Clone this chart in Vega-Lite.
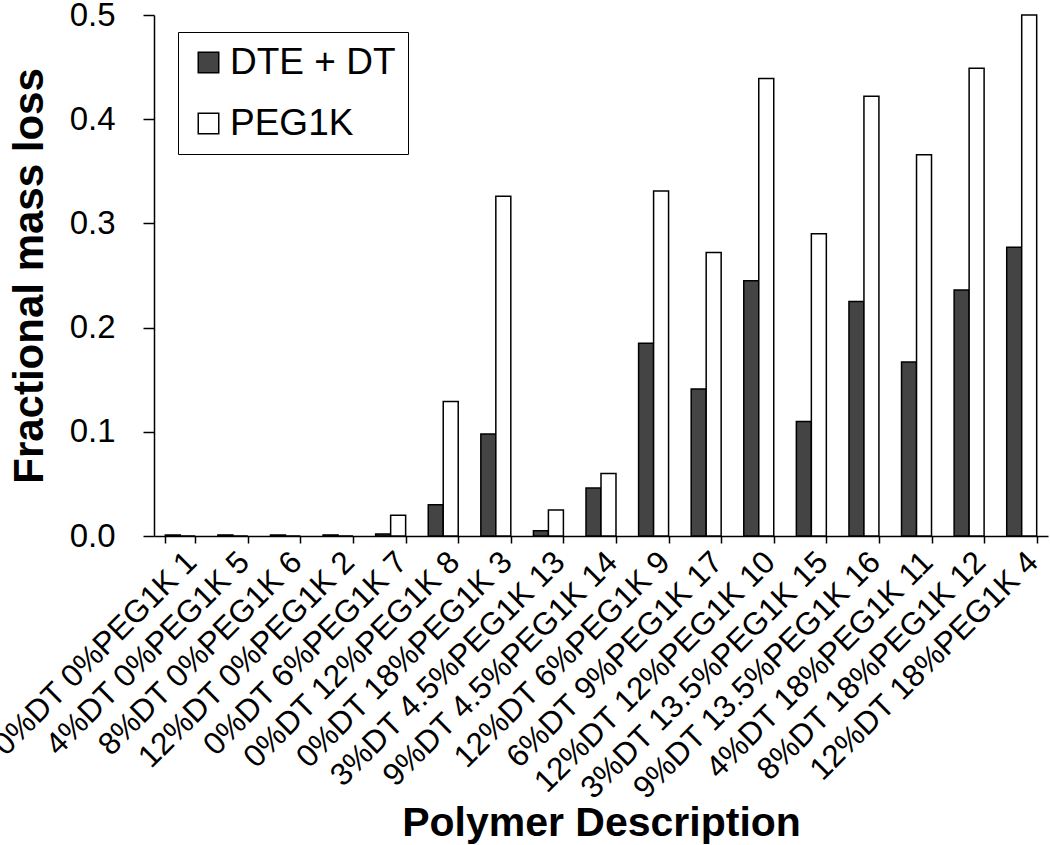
{
  "$schema": "https://vega.github.io/schema/vega-lite/v6.json",
  "width": 894,
  "height": 521,
  "autosize": "none",
  "padding": {"left": 154, "top": 15, "right": 2, "bottom": 309},
  "background": "white",
  "config": {
    "view": {"stroke": null},
    "font": "Liberation Sans",
    "axis": {"domainColor": "black", "tickColor": "black", "labelColor": "black", "titleColor": "black", "grid": false, "labelFont": "Liberation Sans", "titleFont": "Liberation Sans"}
  },
  "data": {
    "values": [
      {"polymer": "0%DT 0%PEG1K 1", "series": "DTE + DT", "value": 0.001},
      {"polymer": "0%DT 0%PEG1K 1", "series": "PEG1K", "value": 0},
      {"polymer": "4%DT 0%PEG1K 5", "series": "DTE + DT", "value": 0.001},
      {"polymer": "4%DT 0%PEG1K 5", "series": "PEG1K", "value": 0},
      {"polymer": "8%DT 0%PEG1K 6", "series": "DTE + DT", "value": 0.001},
      {"polymer": "8%DT 0%PEG1K 6", "series": "PEG1K", "value": 0},
      {"polymer": "12%DT 0%PEG1K 2", "series": "DTE + DT", "value": 0.001},
      {"polymer": "12%DT 0%PEG1K 2", "series": "PEG1K", "value": 0},
      {"polymer": "0%DT 6%PEG1K 7", "series": "DTE + DT", "value": 0.002},
      {"polymer": "0%DT 6%PEG1K 7", "series": "PEG1K", "value": 0.020},
      {"polymer": "0%DT 12%PEG1K 8", "series": "DTE + DT", "value": 0.030},
      {"polymer": "0%DT 12%PEG1K 8", "series": "PEG1K", "value": 0.129},
      {"polymer": "0%DT 18%PEG1K 3", "series": "DTE + DT", "value": 0.098},
      {"polymer": "0%DT 18%PEG1K 3", "series": "PEG1K", "value": 0.326},
      {"polymer": "3%DT 4.5%PEG1K 13", "series": "DTE + DT", "value": 0.005},
      {"polymer": "3%DT 4.5%PEG1K 13", "series": "PEG1K", "value": 0.025},
      {"polymer": "9%DT 4.5%PEG1K 14", "series": "DTE + DT", "value": 0.046},
      {"polymer": "9%DT 4.5%PEG1K 14", "series": "PEG1K", "value": 0.060},
      {"polymer": "12%DT 6%PEG1K 9", "series": "DTE + DT", "value": 0.185},
      {"polymer": "12%DT 6%PEG1K 9", "series": "PEG1K", "value": 0.331},
      {"polymer": "6%DT 9%PEG1K 17", "series": "DTE + DT", "value": 0.141},
      {"polymer": "6%DT 9%PEG1K 17", "series": "PEG1K", "value": 0.272},
      {"polymer": "12%DT 12%PEG1K 10", "series": "DTE + DT", "value": 0.245},
      {"polymer": "12%DT 12%PEG1K 10", "series": "PEG1K", "value": 0.439},
      {"polymer": "3%DT 13.5%PEG1K 15", "series": "DTE + DT", "value": 0.110},
      {"polymer": "3%DT 13.5%PEG1K 15", "series": "PEG1K", "value": 0.290},
      {"polymer": "9%DT 13.5%PEG1K 16", "series": "DTE + DT", "value": 0.225},
      {"polymer": "9%DT 13.5%PEG1K 16", "series": "PEG1K", "value": 0.422},
      {"polymer": "4%DT 18%PEG1K 11", "series": "DTE + DT", "value": 0.167},
      {"polymer": "4%DT 18%PEG1K 11", "series": "PEG1K", "value": 0.366},
      {"polymer": "8%DT 18%PEG1K 12", "series": "DTE + DT", "value": 0.236},
      {"polymer": "8%DT 18%PEG1K 12", "series": "PEG1K", "value": 0.449},
      {"polymer": "12%DT 18%PEG1K 4", "series": "DTE + DT", "value": 0.277},
      {"polymer": "12%DT 18%PEG1K 4", "series": "PEG1K", "value": 0.500}
    ]
  },
  "mark": {"type": "bar", "stroke": "black", "strokeWidth": 1.5},
  "encoding": {
    "x": {
      "field": "polymer",
      "type": "nominal",
      "sort": null,
      "scale": {"paddingInner": 0.43, "paddingOuter": 0.215},
      "axis": {
        "title": "Polymer Description",
        "titleFontSize": 41,
        "titleFontWeight": "bold",
        "titleBaseline": "alphabetic",
        "titleY": 299,
        "labelFontSize": 31.5,
        "labelAngle": -45,
        "labelAlign": "right",
        "labelBaseline": "top",
        "labelPadding": 3,
        "tickBand": "extent",
        "tickSize": 7,
        "tickWidth": 1.5,
        "domainWidth": 1.5,
        "labelOverlap": false,
        "labelLimit": 0
      }
    },
    "xOffset": {"field": "series", "type": "nominal", "scale": {"paddingInner": 0, "paddingOuter": 0}},
    "y": {
      "field": "value",
      "type": "quantitative",
      "scale": {"domain": [0, 0.5], "nice": false},
      "axis": {
        "title": "Fractional mass loss",
        "titleFontSize": 42,
        "titleFontWeight": "bold",
        "titlePadding": 18,
        "labelFontSize": 33,
        "labelPadding": 28,
        "values": [0, 0.1, 0.2, 0.3, 0.4, 0.5],
        "format": ".1f",
        "tickSize": 11,
        "tickWidth": 1.5,
        "domainWidth": 1.5
      }
    },
    "fill": {
      "field": "series",
      "type": "nominal",
      "scale": {"domain": ["DTE + DT", "PEG1K"], "range": ["#444444", "#ffffff"]},
      "legend": {
        "title": null,
        "orient": "none",
        "legendX": 24,
        "legendY": 17,
        "strokeColor": "black",
        "padding": 12,
        "symbolType": "square",
        "symbolSize": 420,
        "symbolStrokeColor": "black",
        "symbolStrokeWidth": 1.5,
        "labelFontSize": 37,
        "labelColor": "black",
        "labelOffset": 3,
        "labelLimit": 0,
        "rowPadding": 23,
        "labelFont": "Liberation Sans"
      }
    }
  }
}
